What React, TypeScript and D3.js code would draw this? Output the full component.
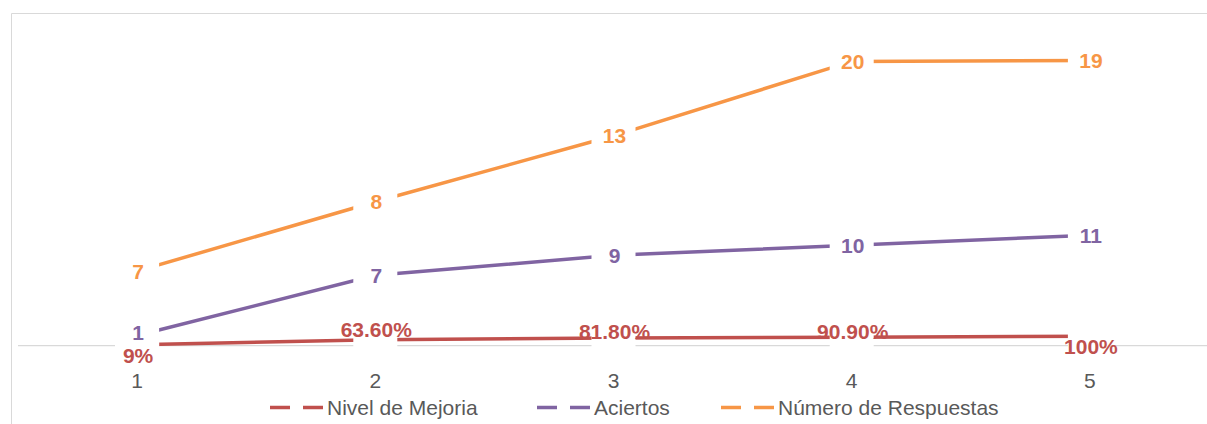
import React from "react";
import * as d3 from "d3";

const categories = ["1", "2", "3", "4", "5"];
const nivelValues = [0.09, 0.636, 0.818, 0.909, 1.0];
const nivelLabels = ["9%", "63.60%", "81.80%", "90.90%", "100%"];
const aciertosValues = [1, 7, 9, 10, 11];
const respuestasValues = [7, 8, 13, 20, 19];
const seriesNames = ["Nivel de Mejoria", "Aciertos", "Número de Respuestas"];
const seriesColors = ["#C0504D", "#8064A2", "#F79646"];

// layout tweaks (Excel label nudges)
const nivelLabelDy = [11, -10, -7, -6, 10];
const aciertosLabelDy = [-3, 0, 0, 0, 0];
const legendStarts = [270, 537, 721];

const W = 1207;
const H = 424;
const FONT = "'Liberation Sans', Arial, sans-serif";

export default function App() {
  const x = d3
    .scaleBand<string>()
    .domain(categories)
    .range([18, 18 + 238.2 * 5])
    .paddingInner(0)
    .paddingOuter(0);
  const cx = (c: string) => (x(c) as number) + x.bandwidth() / 2;
  const y = d3.scaleLinear().domain([0, 35]).range([345.5, 345.5 - 35 * 9.19]);

  // stacked line chart
  const s0 = nivelValues;
  const s1 = aciertosValues.map((v, i) => v + s0[i]);
  const s2 = respuestasValues.map((v, i) => v + s1[i]);
  const stacked = [s0, s1, s2];
  const labels = [
    nivelLabels,
    aciertosValues.map(String),
    respuestasValues.map(String),
  ];
  const dys = [nivelLabelDy, aciertosLabelDy, [0, 0, 0, 0, 0]];

  const line = d3
    .line<number>()
    .x((_, i) => cx(categories[i]))
    .y((d) => y(d));

  return (
    <svg
      width={W}
      height={H}
      style={{ position: "absolute", left: 0, top: 0, background: "#fff" }}
    >
      <rect x={0} y={0} width={W} height={H} fill="#fff" />
      {/* chart border (cropped) */}
      <line x1={11.5} y1={13.5} x2={W} y2={13.5} stroke="#D9D9D9" strokeWidth={1} />
      <line x1={11.5} y1={13.5} x2={11.5} y2={H} stroke="#D9D9D9" strokeWidth={1} />
      {/* category axis */}
      <line x1={18} y1={y(0)} x2={W} y2={y(0)} stroke="#D9D9D9" strokeWidth={1.25} />
      {categories.map((c) => (
        <text
          key={c}
          x={cx(c)}
          y={388}
          textAnchor="middle"
          fontFamily={FONT}
          fontSize={21}
          fill="#595959"
        >
          {c}
        </text>
      ))}
      {/* lines */}
      {stacked.map((s, k) => (
        <path
          key={k}
          d={line(s) || ""}
          fill="none"
          stroke={seriesColors[k]}
          strokeWidth={3.5}
        />
      ))}
      {/* white markers */}
      {stacked.map((s, k) =>
        s.map((v, i) => (
          <rect
            key={`m${k}-${i}`}
            x={cx(categories[i]) - 22}
            y={y(v) - 13}
            width={44}
            height={26}
            fill="#fff"
          />
        ))
      )}
      {/* data labels */}
      {stacked.map((s, k) =>
        s.map((v, i) => (
          <text
            key={`l${k}-${i}`}
            x={cx(categories[i]) + (k === 0 ? 1 : 1)}
            y={y(v) + dys[k][i]}
            dy="0.36em"
            textAnchor="middle"
            fontFamily={FONT}
            fontWeight="bold"
            fontSize={21}
            fill={seriesColors[k]}
          >
            {labels[k][i]}
          </text>
        ))
      )}
      {/* legend */}
      {seriesNames.map((n, k) => (
        <g key={n} transform={`translate(${legendStarts[k]},407.5)`}>
          <line
            x1={0}
            x2={53}
            y1={0}
            y2={0}
            stroke={seriesColors[k]}
            strokeWidth={3.5}
            strokeDasharray="20 13"
          />
          <text
            x={57}
            y={0}
            dy="0.36em"
            fontFamily={FONT}
            fontSize={21}
            fill="#595959"
          >
            {n}
          </text>
        </g>
      ))}
    </svg>
  );
}
